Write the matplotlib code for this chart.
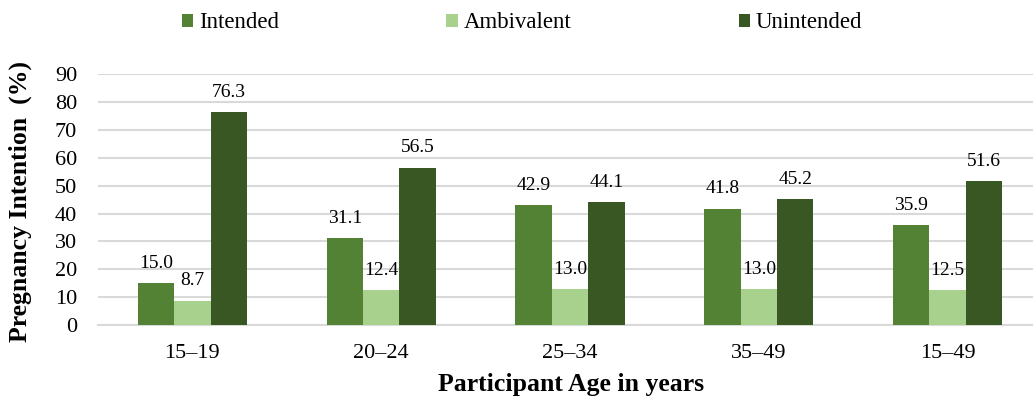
import matplotlib
matplotlib.use("Agg")
import matplotlib.pyplot as plt
import numpy as np

categories = ["15–19", "20–24", "25–34", "35–49", "15–49"]
intended = [15.0, 31.1, 42.9, 41.8, 35.9]
ambivalent = [8.7, 12.4, 13.0, 13.0, 12.5]
unintended = [76.3, 56.5, 44.1, 45.2, 51.6]
series_names = ["Intended", "Ambivalent", "Unintended"]
colors = ["#548235", "#A9D18E", "#385723"]
y_ticks = [0, 10, 20, 30, 40, 50, 60, 70, 80, 90]

plt.rcParams['font.family'] = ['Liberation Serif', 'DejaVu Serif']

W, H = 1033, 403
fig = plt.figure(figsize=(W / 100, H / 100), dpi=100)
left, right = 98, 1042
bottom, top = 325, 74.3
ax = fig.add_axes([left / W, (H - bottom) / H, (right - left) / W, (bottom - top) / H])

x = np.arange(len(categories))
bw = 0.193
for i, (vals, name, c) in enumerate(zip([intended, ambivalent, unintended], series_names, colors)):
    pos = x + (i - 1) * bw
    bars = ax.bar(pos, vals, width=bw, color=c, label=name, zorder=3)
    for b, v in zip(bars, vals):
        ax.annotate(f"{v:.1f}", (b.get_x() + b.get_width() / 2, v),
                    xytext=(0, 11), textcoords="offset points",
                    ha="center", va="baseline", fontsize=14, color="#000000",
                    zorder=5, clip_on=False)

ax.set_xlim(-0.5, len(categories) - 0.5)
ax.set_ylim(0, 90)
ax.set_yticks(y_ticks)
ax.set_xticks(x)
ax.set_xticklabels(categories)
ax.tick_params(axis="both", length=0, labelsize=16, colors="#000000")
ax.tick_params(axis="y", pad=15)
ax.tick_params(axis="x", pad=14)
ax.grid(axis="y", color="#D9D9D9", linewidth=1.5, zorder=0)
ax.set_axisbelow(True)
for s in ["top", "right", "left"]:
    ax.spines[s].set_visible(False)
ax.spines["bottom"].set_color("#D9D9D9")
ax.spines["bottom"].set_linewidth(1.5)

fig.text(20 / W, (H - 201) / H, "Pregnancy Intention  (%)", rotation=90,
         ha="center", va="center", fontsize=18.5, fontweight="bold")
fig.text(571 / W, (H - 385) / H, "Participant Age in years",
         ha="center", va="center", fontsize=18.5, fontweight="bold")

handles, labels = ax.get_legend_handles_labels()
fig.legend(handles, labels, loc="center", bbox_to_anchor=(522 / W, 1 - 23 / H),
           ncol=3, frameon=False, fontsize=16.5, handlelength=0.5, handleheight=0.5,
           handletextpad=0.25, columnspacing=7.3, borderpad=0, borderaxespad=0)

fig.savefig("out.png", dpi=100)
